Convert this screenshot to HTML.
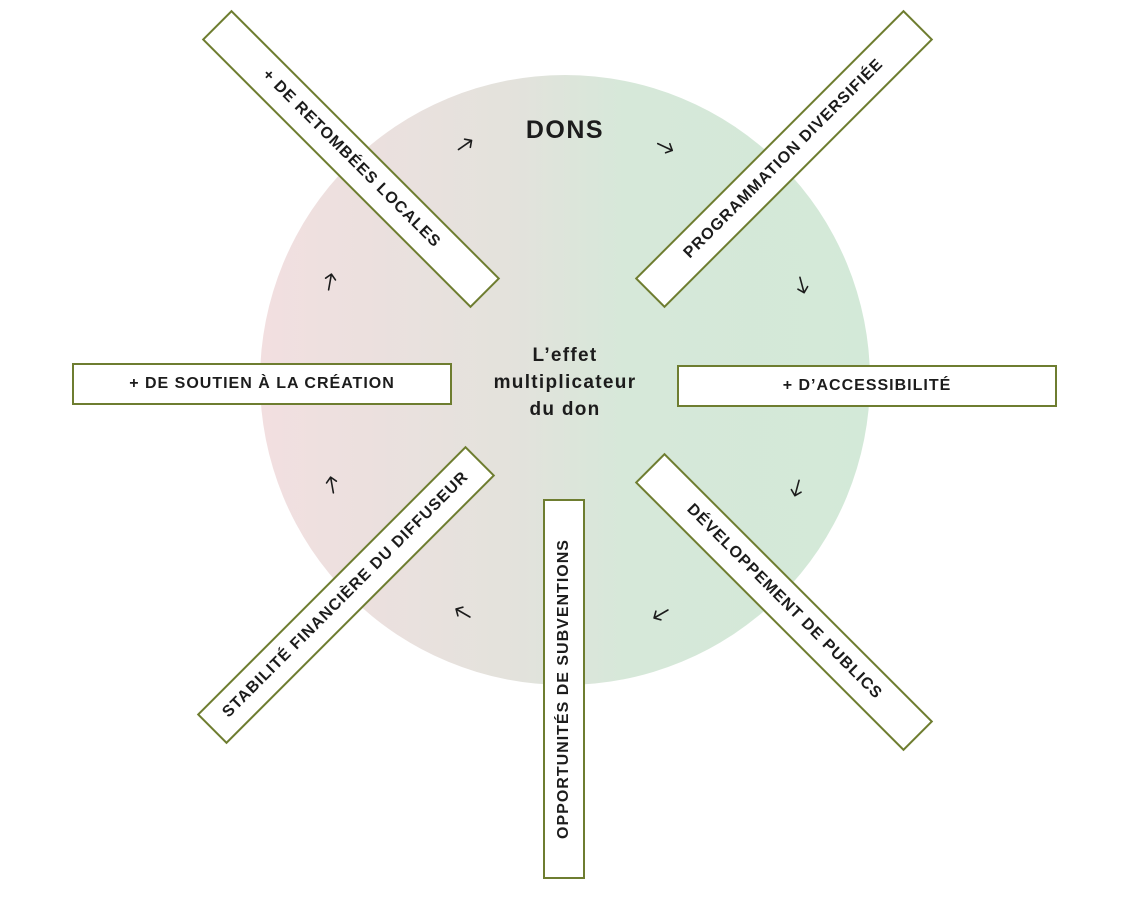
<!DOCTYPE html>
<html><head><meta charset="utf-8"><style>
body{margin:0;width:1130px;height:900px;background:#fff;position:relative;overflow:hidden;font-family:"Liberation Sans",sans-serif;}
.circle{position:absolute;left:260px;top:75px;width:610px;height:610px;border-radius:50%;background:linear-gradient(90deg,#f2dfe0 0%,#e3e2dc 42%,#d6e8d9 60%,#d3e9d8 100%);}
.box{position:absolute;width:376px;height:38px;border:2px solid #6e7d30;background:#fff;display:flex;align-items:center;justify-content:center;font-weight:bold;font-size:16px;letter-spacing:1px;color:#1c1c1c;white-space:nowrap;transform-origin:center;}
.t{position:absolute;font-weight:bold;color:#1c1c1c;text-align:center;}
</style></head><body>
<div class="circle"></div>
<div class="t" style="left:465px;top:116px;width:200px;font-size:25px;letter-spacing:1.5px;">DONS</div>
<div class="t" style="left:465px;top:342px;width:200px;font-size:19px;line-height:27px;letter-spacing:1.3px;">L’effet<br>multiplicateur<br>du don</div>
<div class="box" style="left:72px;top:363px;">+ DE SOUTIEN À LA CRÉATION</div>
<div class="box" style="left:677px;top:365px;">+ D’ACCESSIBILITÉ</div>
<div class="box" style="left:374px;top:668px;transform:rotate(-90deg);">OPPORTUNITÉS DE SUBVENTIONS</div>
<div class="box" style="left:161px;top:138px;transform:rotate(45deg);">+ DE RETOMBÉES LOCALES</div>
<div class="box" style="left:594px;top:138px;transform:rotate(-45deg);">PROGRAMMATION DIVERSIFIÉE</div>
<div class="box" style="left:594px;top:581px;transform:rotate(45deg);">DÉVELOPPEMENT DE PUBLICS</div>
<div class="box" style="left:156px;top:574px;transform:rotate(-45deg);">STABILITÉ FINANCIÈRE DU DIFFUSEUR</div>
<svg width="1130" height="900" style="position:absolute;left:0;top:0" fill="none" stroke="#1c1c1c" stroke-width="1.6" stroke-linecap="round" stroke-linejoin="round">
<g transform="translate(465,145) rotate(-35)"><path d="M-8,0 H8 M3,-5 L8,0 L3,5"/></g>
<g transform="translate(665,147) rotate(25)"><path d="M-8,0 H8 M3,-5 L8,0 L3,5"/></g>
<g transform="translate(802,285) rotate(75)"><path d="M-8,0 H8 M3,-5 L8,0 L3,5"/></g>
<g transform="translate(797,488) rotate(105)"><path d="M-8,0 H8 M3,-5 L8,0 L3,5"/></g>
<g transform="translate(661,614) rotate(150)"><path d="M-8,0 H8 M3,-5 L8,0 L3,5"/></g>
<g transform="translate(463,613) rotate(-150)"><path d="M-8,0 H8 M3,-5 L8,0 L3,5"/></g>
<g transform="translate(332,485) rotate(-100)"><path d="M-8,0 H8 M3,-5 L8,0 L3,5"/></g>
<g transform="translate(330,282) rotate(-80)"><path d="M-8,0 H8 M3,-5 L8,0 L3,5"/></g>
</svg>
</body></html>
